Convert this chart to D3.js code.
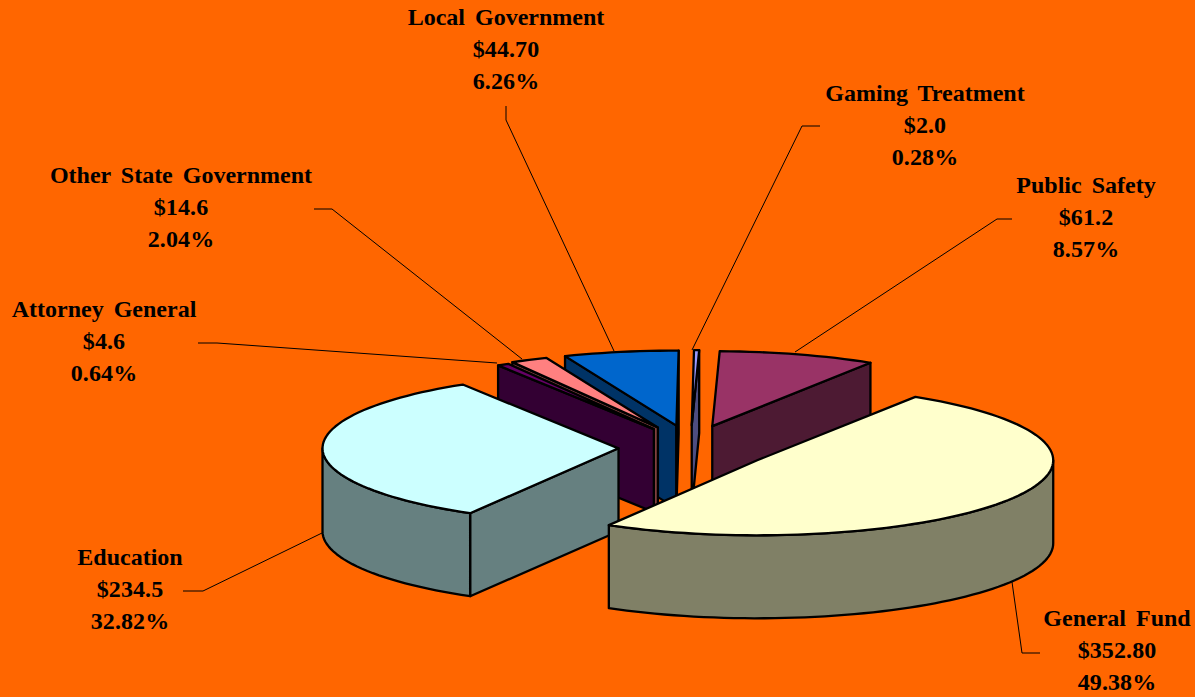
<!DOCTYPE html>
<html><head><meta charset="utf-8">
<script src="https://cdn.jsdelivr.net/npm/d3@7"></script>
<style>html,body{margin:0;padding:0;background:#FF6600;overflow:hidden}svg{display:block}</style>
</head><body>
<script>
const categories = ["General Fund","Education","Attorney General","Other State Government","Local Government","Gaming Treatment","Public Safety"];
const amountLabels = ["$352.80","$234.5","$4.6","$14.6","$44.70","$2.0","$61.2"];
const percents = [49.38,32.82,0.64,2.04,6.26,0.28,8.57];
const explodeBy = [78,72,72,75,75,75,75];
const topColors = ["#FFFFCC","#CCFFFF","#660066","#FF8080","#0066CC","#9999FF","#993366"];
const wallColors = ["#808066","#668080","#330033","#804040","#003366","#4D4D80","#4D1A33"];
const drawOrder = [6,5,4,3,2,1,0];
// label layout: centre x, first baseline
const labelX = [1117,130,104,181,506,925,1086];
const labelY = [626,565,317,183,25,101,193];
const leaders = [
 [[1040,653],[1022,653],[1012,582]],
 [[183,591],[203,591],[322,533]],
 [[198,343],[217,343],[497,363]],
 [[314,209],[332,209],[522,359]],
 [[506,106],[506,120],[614,351]],
 [[820,126],[802,126],[692,350]],
 [[1012,219],[997,219],[795,352]]
];
const W=1195,H=697;
const cx=690.5, cy=448, rx=296, ry=75, depth=83, explodeTilt=0.304;
const startDeg=32.3;

const svg=d3.select("body").append("svg").attr("width",W).attr("height",H);
svg.append("rect").attr("width",W).attr("height",H).attr("fill","#FF6600");

const pie=d3.pie().sort(null).startAngle(startDeg*Math.PI/180).endAngle((startDeg+360)*Math.PI/180);
const arcs=pie(percents);
const xs=d3.scaleLinear().domain([-1,1]).range([-rx,rx]);
const ys=d3.scaleLinear().domain([-1,1]).range([-ry,ry]);
const line=d3.line();
const closed=pts=>line(pts)+"Z";

function apex(a,e){
  const m=(a.startAngle+a.endAngle)/2;
  return [cx+e*Math.sin(m), cy-e*explodeTilt*Math.cos(m)];
}
function rim(c,t){return [c[0]+xs(Math.sin(t)), c[1]+ys(-Math.cos(t))];}
function rimPts(c,t0,t1){
  const n=Math.max(2,Math.ceil((t1-t0)/(Math.PI/90)));
  return d3.range(n+1).map(i=>rim(c,t0+(t1-t0)*i/n));
}
const down=p=>[p[0],p[1]+depth];
const g=svg.append("g").attr("stroke","#000").attr("stroke-width",2.3).attr("stroke-linejoin","round");

drawOrder.forEach(i=>{
  const a=arcs[i], c=apex(a,explodeBy[i]), t0=a.startAngle, t1=a.endAngle;
  const startP=rim(c,t0), endP=rim(c,t1);
  if(Math.sin(t0)<-1e-6) g.append("path").attr("d",closed([c,startP,down(startP),down(c)])).attr("fill",wallColors[i]);
  if(Math.sin(t1)>1e-6) g.append("path").attr("d",closed([c,endP,down(endP),down(c)])).attr("fill",wallColors[i]);
  const lo=Math.max(t0,Math.PI/2), hi=Math.min(t1,Math.PI*1.5);
  if(hi>lo){
    const r=rimPts(c,lo,hi);
    g.append("path").attr("d",closed(r.concat(r.slice().reverse().map(down)))).attr("fill",wallColors[i]);
  }
  g.append("path").attr("d",closed([c].concat(rimPts(c,t0,t1)))).attr("fill",topColors[i]);
});

const lg=svg.append("g").attr("fill","none").attr("stroke","#000").attr("stroke-width",1);
leaders.forEach(l=>lg.append("path").attr("d",line(l)));

const tg=svg.append("g").attr("font-family","'Liberation Serif','Times New Roman',serif")
  .attr("font-weight","700").attr("font-size",24).attr("fill","#000").attr("text-anchor","middle");
categories.forEach((name,i)=>{
  const t=[name,amountLabels[i],percents[i].toFixed(2)+"%"];
  t.forEach((s,j)=>tg.append("text").attr("x",labelX[i]).attr("y",labelY[i]+j*32)
    .attr("word-spacing",j===0?4:0).attr("letter-spacing",j===0?0:0.1).text(s));
});
</script>
</body></html>
